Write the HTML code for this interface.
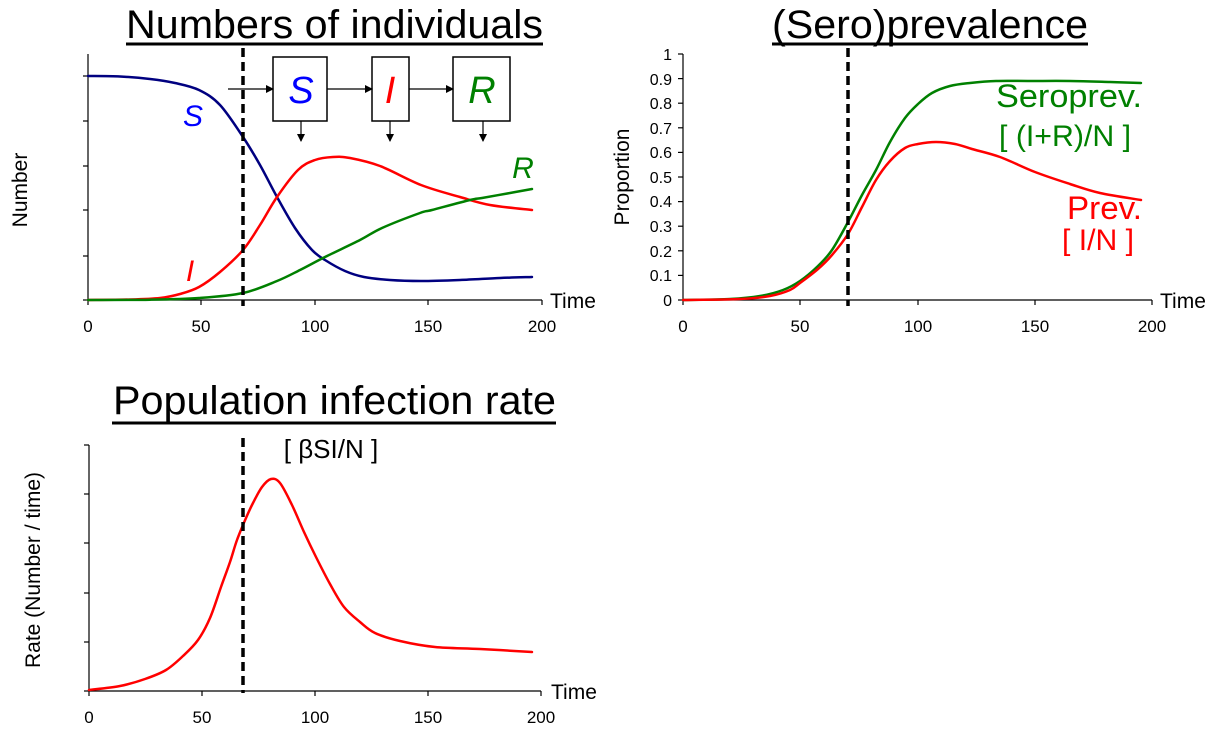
<!DOCTYPE html>
<html><head><meta charset="utf-8"><style>
html,body{margin:0;padding:0;background:#fff}
svg{display:block;font-family:"Liberation Sans",Arial,sans-serif}
</style></head><body>
<svg id="s" width="1224" height="756" viewBox="0 0 1224 756" xmlns="http://www.w3.org/2000/svg">
<defs><marker id="ah" markerWidth="8" markerHeight="8" refX="7" refY="4" orient="auto" markerUnits="userSpaceOnUse"><path d="M0,0 L8,4 L0,8 z" fill="#000"/></marker></defs>

<!-- Chart 1 -->
<text x="126" y="38" font-size="40" textLength="417" lengthAdjust="spacingAndGlyphs">Numbers of individuals</text>
<line x1="126" y1="44" x2="543" y2="44" stroke="#000" stroke-width="3"/>
<g stroke="#000" stroke-width="1.2" fill="none">
<line x1="88" y1="54" x2="88" y2="300"/><line x1="88" y1="300" x2="542" y2="300"/>
<line x1="83" y1="76" x2="88" y2="76"/><line x1="83" y1="121" x2="88" y2="121"/><line x1="83" y1="166" x2="88" y2="166"/><line x1="83" y1="210" x2="88" y2="210"/><line x1="83" y1="256" x2="88" y2="256"/><line x1="83" y1="300" x2="88" y2="300"/>
<line x1="88" y1="300" x2="88" y2="305"/><line x1="201" y1="300" x2="201" y2="305"/><line x1="315" y1="300" x2="315" y2="305"/><line x1="428" y1="300" x2="428" y2="305"/><line x1="542" y1="300" x2="542" y2="305"/>
</g>
<g font-size="17" text-anchor="middle"><text x="88" y="332">0</text><text x="201" y="332">50</text><text x="315" y="332">100</text><text x="428" y="332">150</text><text x="542" y="332">200</text></g>
<text x="550" y="308" font-size="21">Time</text>
<text transform="translate(27,190) rotate(-90)" font-size="21" text-anchor="middle">Number</text>
<polyline class="sm" fill="none" stroke="#000080" stroke-width="2.5" stroke-linejoin="round" points="88,76 120,76.5 150,79 175,83 199,90 220,105 243,137 260,165 277,197 295,228 312,250 325,260 345,271 364,277 390,280 421,281 460,280 500,278 532,277"/>
<polyline class="sm" fill="none" stroke="#ff0000" stroke-width="2.5" stroke-linejoin="round" points="88,300 130,299.5 160,298 180,294 199,287 220,272 243,250 260,225 277,197 298,170 315,160 333,157 350,158 380,166 421,185 460,197 490,205 532,210"/>
<polyline class="sm" fill="none" stroke="#008000" stroke-width="2.5" stroke-linejoin="round" points="88,300 150,299.7 199,298 243,293 277,281 300,270 325,257 360,240 382,228 420,213 432,210 470,200 482,198 510,193 532,189"/>
<line x1="243" y1="48" x2="243" y2="306" stroke="#000" stroke-width="3.5" stroke-dasharray="9,5"/>
<g fill="none" stroke="#000" stroke-width="1.5"><rect x="273" y="57" width="54" height="64"/><rect x="372" y="57" width="37" height="64"/><rect x="453" y="57" width="57" height="64"/></g>
<g stroke="#000" stroke-width="1.2" marker-end="url(#ah)"><line x1="228" y1="89" x2="273" y2="89"/><line x1="327" y1="89" x2="372" y2="89"/><line x1="409" y1="89" x2="453" y2="89"/><line x1="301" y1="121" x2="301" y2="141"/><line x1="390" y1="121" x2="390" y2="141"/><line x1="483" y1="121" x2="483" y2="141"/></g>
<g font-style="italic" font-size="38" text-anchor="middle"><text x="301" y="103" fill="#0000ff">S</text><text x="390" y="103" fill="#ff0000">I</text><text x="482" y="103" fill="#008000">R</text></g>
<g font-style="italic" font-size="30" text-anchor="middle"><text x="193" y="126" fill="#0000ff">S</text><text x="190" y="281" fill="#ff0000">I</text><text x="523" y="178" fill="#008000">R</text></g>

<!-- Chart 2 -->
<text x="772" y="38" font-size="40" textLength="316" lengthAdjust="spacingAndGlyphs">(Sero)prevalence</text>
<line x1="772" y1="44" x2="1088" y2="44" stroke="#000" stroke-width="3"/>
<g stroke="#000" stroke-width="1.2" fill="none">
<line x1="683" y1="54" x2="683" y2="300"/><line x1="683" y1="300" x2="1152" y2="300"/>
<line x1="683" y1="300" x2="683" y2="305"/><line x1="800" y1="300" x2="800" y2="305"/><line x1="918" y1="300" x2="918" y2="305"/><line x1="1035" y1="300" x2="1035" y2="305"/><line x1="1152" y1="300" x2="1152" y2="305"/>
<line x1="678" y1="300" x2="683" y2="300"/><line x1="678" y1="275.4" x2="683" y2="275.4"/><line x1="678" y1="250.8" x2="683" y2="250.8"/><line x1="678" y1="226.2" x2="683" y2="226.2"/><line x1="678" y1="201.6" x2="683" y2="201.6"/><line x1="678" y1="177" x2="683" y2="177"/><line x1="678" y1="152.4" x2="683" y2="152.4"/><line x1="678" y1="127.8" x2="683" y2="127.8"/><line x1="678" y1="103.2" x2="683" y2="103.2"/><line x1="678" y1="78.6" x2="683" y2="78.6"/><line x1="678" y1="54" x2="683" y2="54"/>
</g>
<g font-size="16" text-anchor="end"><text x="672" y="306">0</text><text x="672" y="281">0.1</text><text x="672" y="257">0.2</text><text x="672" y="232">0.3</text><text x="672" y="207">0.4</text><text x="672" y="183">0.5</text><text x="672" y="158">0.6</text><text x="672" y="134">0.7</text><text x="672" y="109">0.8</text><text x="672" y="85">0.9</text><text x="672" y="60">1</text></g>
<g font-size="17" text-anchor="middle"><text x="683" y="332">0</text><text x="800" y="332">50</text><text x="918" y="332">100</text><text x="1035" y="332">150</text><text x="1152" y="332">200</text></g>
<text x="1160" y="308" font-size="21">Time</text>
<text transform="translate(629,177) rotate(-90)" font-size="21" text-anchor="middle">Proportion</text>
<polyline class="sm" fill="none" stroke="#008000" stroke-width="2.5" stroke-linejoin="round" points="683,300 730,299 760,296 783,290 800,281 818,266 832,250 848,222 862,195 876,170 890,142 905,118 918,104 932,93 950,86 970,83 996,81 1030,81 1070,81 1110,82 1141,83"/>
<polyline class="sm" fill="none" stroke="#ff0000" stroke-width="2.5" stroke-linejoin="round" points="683,300 740,299 770,296 790,290 800,283 818,269 832,255 848,234 862,207 876,180 890,161 905,148 918,144 936,142 955,144 972,149 1000,157 1035,172 1070,184 1100,193 1141,200"/>
<line x1="848" y1="48" x2="848" y2="306" stroke="#000" stroke-width="3.5" stroke-dasharray="9,5"/>
<text x="1142" y="107" font-size="32" fill="#008000" text-anchor="end" textLength="146" lengthAdjust="spacingAndGlyphs">Seroprev.</text>
<text x="1131" y="146" font-size="30" fill="#008000" text-anchor="end" textLength="132" lengthAdjust="spacingAndGlyphs">[ (I+R)/N ]</text>
<text x="1142" y="219" font-size="32" fill="#ff0000" text-anchor="end" textLength="75" lengthAdjust="spacingAndGlyphs">Prev.</text>
<text x="1134" y="250" font-size="30" fill="#ff0000" text-anchor="end" textLength="72" lengthAdjust="spacingAndGlyphs">[ I/N ]</text>

<!-- Chart 3 -->
<text x="113" y="414" font-size="40" textLength="443" lengthAdjust="spacingAndGlyphs">Population infection rate</text>
<line x1="112" y1="423" x2="556" y2="423" stroke="#000" stroke-width="3"/>
<text x="331" y="458" font-size="26" text-anchor="middle">[ βSI/N ]</text>
<g stroke="#000" stroke-width="1.2" fill="none">
<line x1="89" y1="445" x2="89" y2="691"/><line x1="89" y1="691" x2="541" y2="691"/>
<line x1="84" y1="445" x2="89" y2="445"/><line x1="84" y1="494" x2="89" y2="494"/><line x1="84" y1="543" x2="89" y2="543"/><line x1="84" y1="593" x2="89" y2="593"/><line x1="84" y1="642" x2="89" y2="642"/><line x1="84" y1="691" x2="89" y2="691"/>
<line x1="89" y1="691" x2="89" y2="696"/><line x1="202" y1="691" x2="202" y2="696"/><line x1="315" y1="691" x2="315" y2="696"/><line x1="428" y1="691" x2="428" y2="696"/><line x1="541" y1="691" x2="541" y2="696"/>
</g>
<g font-size="17" text-anchor="middle"><text x="89" y="723">0</text><text x="202" y="723">50</text><text x="315" y="723">100</text><text x="428" y="723">150</text><text x="541" y="723">200</text></g>
<text x="551" y="699" font-size="21">Time</text>
<text transform="translate(40,570) rotate(-90)" font-size="21" text-anchor="middle">Rate (Number / time)</text>
<polyline class="sm" fill="none" stroke="#ff0000" stroke-width="2.5" stroke-linejoin="round" points="89,690 120,686 145,679 166,670 183,656 198,640 210,618 221,587 230,562 237,540 246,518 253,503 262,487 271,479 280,483 292,505 304,532 316,557 330,584 344,607 360,622 375,633 400,641 435,647 480,649 532,652"/>
<line x1="243" y1="438" x2="243" y2="693" stroke="#000" stroke-width="3.5" stroke-dasharray="9,5"/>
</svg>
<script>
(function(){
var ns="http://www.w3.org/2000/svg";
var pls=document.querySelectorAll("polyline.sm");
for(var k=0;k<pls.length;k++){
 var pl=pls[k];
 var pts=pl.getAttribute("points").trim().split(/\s+/).map(function(s){var a=s.split(",");return[+a[0],+a[1]];});
 var d="M"+pts[0][0]+","+pts[0][1];
 for(var i=0;i<pts.length-1;i++){
  var p0=pts[i>0?i-1:i],p1=pts[i],p2=pts[i+1],p3=pts[i+2<pts.length?i+2:i+1];
  var c1x=p1[0]+(p2[0]-p0[0])/6,c1y=p1[1]+(p2[1]-p0[1])/6;
  var c2x=p2[0]-(p3[0]-p1[0])/6,c2y=p2[1]-(p3[1]-p1[1])/6;
  d+=" C"+c1x.toFixed(2)+","+c1y.toFixed(2)+" "+c2x.toFixed(2)+","+c2y.toFixed(2)+" "+p2[0]+","+p2[1];
 }
 var p=document.createElementNS(ns,"path");
 p.setAttribute("d",d);
 ["fill","stroke","stroke-width","stroke-linejoin"].forEach(function(a){p.setAttribute(a,pl.getAttribute(a));});
 p.setAttribute("stroke-linecap","round");
 pl.parentNode.replaceChild(p,pl);
}
})();
</script>
</body></html>
